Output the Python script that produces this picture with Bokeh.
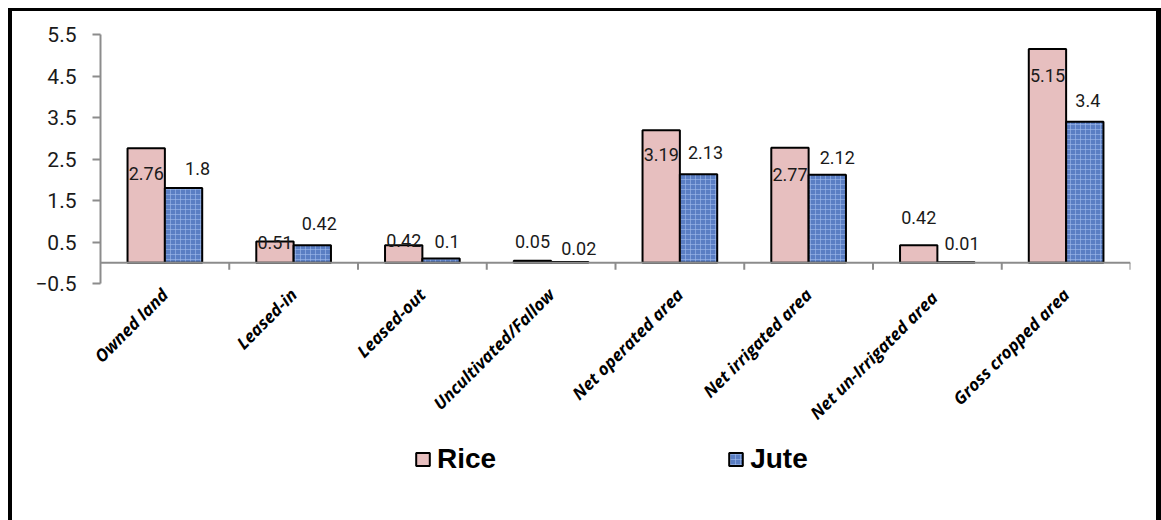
import numpy as np
from bokeh.plotting import figure
from bokeh.layouts import column
from bokeh.models import (Range1d, FixedTicker, Span, Legend, LegendItem,
                          ColumnDataSource)
from bokeh.embed import file_html
from bokeh.resources import INLINE
from bokeh.core.properties import value

# ---------------- data ----------------
categories = ["Owned land", "Leased-in", "Leased-out", "Uncultivated/Fallow",
              "Net operated area", "Net irrigated area",
              "Net un-Irrigated  area", "Gross cropped area"]
rice = [2.76, 0.51, 0.42, 0.05, 3.19, 2.77, 0.42, 5.15]
jute = [1.8, 0.42, 0.1, 0.02, 2.13, 2.12, 0.01, 3.4]
y_ticks = [-0.5, 0.5, 1.5, 2.5, 3.5, 4.5, 5.5]
series_names = ["Rice", "Jute"]

# label placement (screen pixels, relative to the top of each bar)
rice_label_dy = [25, 1, -5, -19, 24, 27, -28, 26]
jute_label_dx = [14, 7, 6, 9, 7, 10, 6, 3]
jute_label_dy = [-20, -22, -17, -13, -22, -17, -19, -21]

# ---------------- layout / styles ----------------
RICE_COLOR = "#e7bfbf"
JUTE_COLOR = "#5a7ec3"
AXIS_GRAY = "#8c8c8c"
BAR_W = 0.29
CANVAS_W = 1144

n = len(categories)
centers = np.arange(n) + 0.5
rice_x = centers - BAR_W / 2
jute_x = centers + BAR_W / 2

rice_style = dict(fill_color=RICE_COLOR, line_color="black", line_width=2)
jute_style = dict(fill_color=JUTE_COLOR, line_color="black", line_width=2,
                  hatch_pattern="+", hatch_color="#a6c0ee", hatch_alpha=0.55,
                  hatch_scale=5, hatch_weight=1)

p = figure(width=CANVAS_W, height=426, output_backend="svg", toolbar_location=None,
           x_range=Range1d(0, n), y_range=Range1d(-0.5, 5.5),
           min_border_left=88, min_border_right=26, min_border_top=23,
           min_border_bottom=154)
p.outline_line_color = None
p.xgrid.visible = False
p.ygrid.visible = False
p.background_fill_color = "white"
p.border_fill_color = "white"

rice_src = ColumnDataSource(dict(x=rice_x, top=rice, lab=[str(v) for v in rice],
                                 dy=rice_label_dy))
jute_src = ColumnDataSource(dict(x=jute_x, top=jute, lab=[str(v) for v in jute],
                                 dx=jute_label_dx, dy=jute_label_dy))

p.vbar(x="x", top="top", bottom=0, width=BAR_W, source=rice_src, **rice_style)
p.vbar(x="x", top="top", bottom=0, width=BAR_W, source=jute_src, **jute_style)

# zero line and category tick marks
p.add_layout(Span(location=0, dimension="width", line_color=AXIS_GRAY, line_width=2))
bounds = np.arange(1, n + 1)
p.segment(x0=bounds, y0=np.zeros(n), x1=bounds, y1=np.full(n, -0.17),
          line_color=AXIS_GRAY, line_width=2)

# data labels
p.text(x="x", y="top", text="lab", source=rice_src, y_offset="dy",
       text_align="center", text_baseline="middle",
       text_font=value("Roboto"), text_font_size="18px", text_color="#1a1a1a")
p.text(x="x", y="top", text="lab", source=jute_src, x_offset="dx", y_offset="dy",
       text_align="center", text_baseline="middle",
       text_font=value("Roboto"), text_font_size="18px", text_color="#1a1a1a")

# y axis
ya = p.yaxis[0]
ya.ticker = FixedTicker(ticks=y_ticks)
ya.axis_line_color = AXIS_GRAY
ya.axis_line_width = 2
ya.major_tick_line_color = AXIS_GRAY
ya.major_tick_line_width = 2
ya.major_tick_out = 8
ya.major_tick_in = 0
ya.minor_tick_line_color = None
ya.major_label_standoff = 16
ya.major_label_text_font = "Roboto"
ya.major_label_text_font_size = "21px"
ya.major_label_text_color = "#1a1a1a"

# x axis (category names)
xa = p.xaxis[0]
xa.ticker = FixedTicker(ticks=list(centers))
xa.major_label_overrides = {float(c): name for c, name in zip(centers, categories)}
xa.axis_line_color = None
xa.major_tick_line_color = None
xa.minor_tick_line_color = None
xa.major_label_orientation = np.pi / 4
xa.major_label_text_font = "Open Sans"
xa.major_label_text_font_style = "bold italic"
xa.major_label_text_font_size = "17px"
xa.major_label_text_color = "black"
xa.major_label_standoff = 2

# ---------------- legend strip ----------------
q = figure(width=CANVAS_W, height=83, output_backend="svg", toolbar_location=None,
           x_range=Range1d(0, 1), y_range=Range1d(0, 1),
           x_axis_location=None, y_axis_location=None,
           min_border=0, min_border_left=0, min_border_right=0,
           min_border_top=0, min_border_bottom=0)
q.grid.visible = False
q.outline_line_color = None
q.background_fill_color = "white"
q.border_fill_color = "white"
placeholder = dict(x=[np.nan], top=[np.nan])
lr = q.vbar(x="x", top="top", bottom=0, width=0.1,
            source=ColumnDataSource(placeholder), **rice_style)
lj = q.vbar(x="x", top="top", bottom=0, width=0.1,
            source=ColumnDataSource(placeholder), **jute_style)
legend = Legend(items=[LegendItem(label=series_names[0], renderers=[lr]),
                       LegendItem(label=series_names[1], renderers=[lj])],
                orientation="horizontal", location=(314, 45),
                spacing=231, glyph_width=17, glyph_height=16, label_standoff=6,
                label_text_font="Liberation Sans", label_text_font_style="bold",
                label_text_font_size="28px", label_text_color="black",
                padding=0, margin=0,
                border_line_color=None, background_fill_alpha=0)
q.add_layout(legend, "center")

layout = column(p, q, spacing=0)
layout.styles = {"border-left": "4px solid black", "border-top": "3px solid black",
                 "border-right": "5px solid black", "box-sizing": "content-box",
                 "position": "relative", "left": "8px", "top": "8px"}

open("out.html", "w").write(file_html(layout, INLINE))
